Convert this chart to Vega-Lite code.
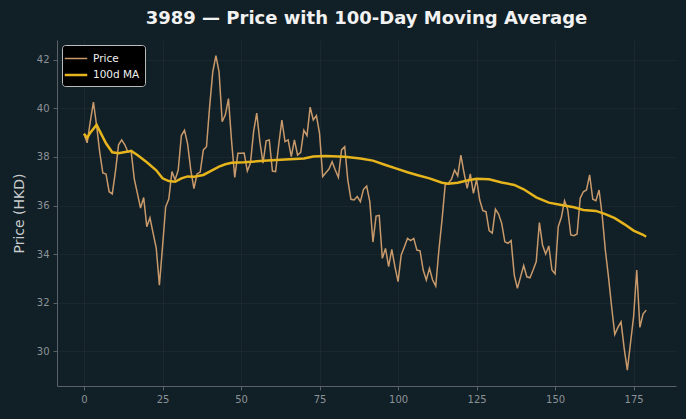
{
  "$schema": "https://vega.github.io/schema/vega-lite/v6.json",
  "width": 619,
  "height": 346,
  "autosize": {"type": "none"},
  "padding": {"left": 57, "top": 40, "right": 10, "bottom": 33},
  "background": "#111f26",
  "config": {
    "font": "DejaVu Sans",
    "view": {"stroke": null, "fill": "#111f26"},
    "axis": {
      "domainColor": "#5b6166",
      "tickColor": "#5b6166",
      "labelColor": "#8c9398",
      "labelFontSize": 10,
      "gridColor": "#ffffff",
      "gridOpacity": 0.04,
      "tickSize": 4,
      "labelPadding": 4
    }
  },
  "title": {
    "text": "3989 — Price with 100-Day Moving Average",
    "fontSize": 18,
    "fontWeight": "bold",
    "color": "#f2f2f2",
    "anchor": "middle",
    "offset": 12
  },
  "data": {
    "values": [
      {"day": 0, "series": "Price", "value": 38.95},
      {"day": 1, "series": "Price", "value": 38.58},
      {"day": 2, "series": "Price", "value": 39.45},
      {"day": 3, "series": "Price", "value": 40.26},
      {"day": 4, "series": "Price", "value": 39.3},
      {"day": 5, "series": "Price", "value": 38.2},
      {"day": 6, "series": "Price", "value": 37.34},
      {"day": 7, "series": "Price", "value": 37.3},
      {"day": 8, "series": "Price", "value": 36.57},
      {"day": 9, "series": "Price", "value": 36.48},
      {"day": 10, "series": "Price", "value": 37.4},
      {"day": 11, "series": "Price", "value": 38.5},
      {"day": 12, "series": "Price", "value": 38.7},
      {"day": 13, "series": "Price", "value": 38.5},
      {"day": 14, "series": "Price", "value": 38.2},
      {"day": 15, "series": "Price", "value": 38.25},
      {"day": 16, "series": "Price", "value": 37.1},
      {"day": 17, "series": "Price", "value": 36.5},
      {"day": 18, "series": "Price", "value": 35.9},
      {"day": 19, "series": "Price", "value": 36.33},
      {"day": 20, "series": "Price", "value": 35.13},
      {"day": 21, "series": "Price", "value": 35.5},
      {"day": 22, "series": "Price", "value": 34.87},
      {"day": 23, "series": "Price", "value": 34.25},
      {"day": 24, "series": "Price", "value": 32.73},
      {"day": 25, "series": "Price", "value": 34.3},
      {"day": 26, "series": "Price", "value": 35.95},
      {"day": 27, "series": "Price", "value": 36.27},
      {"day": 28, "series": "Price", "value": 37.4},
      {"day": 29, "series": "Price", "value": 37.05},
      {"day": 30, "series": "Price", "value": 37.46},
      {"day": 31, "series": "Price", "value": 38.88},
      {"day": 32, "series": "Price", "value": 39.1},
      {"day": 33, "series": "Price", "value": 38.53},
      {"day": 34, "series": "Price", "value": 37.46},
      {"day": 35, "series": "Price", "value": 36.7},
      {"day": 36, "series": "Price", "value": 37.3},
      {"day": 37, "series": "Price", "value": 37.38},
      {"day": 38, "series": "Price", "value": 38.29},
      {"day": 39, "series": "Price", "value": 38.42},
      {"day": 40, "series": "Price", "value": 40.07},
      {"day": 41, "series": "Price", "value": 41.5},
      {"day": 42, "series": "Price", "value": 42.17},
      {"day": 43, "series": "Price", "value": 41.5},
      {"day": 44, "series": "Price", "value": 39.45},
      {"day": 45, "series": "Price", "value": 39.73},
      {"day": 46, "series": "Price", "value": 40.4},
      {"day": 47, "series": "Price", "value": 38.63},
      {"day": 48, "series": "Price", "value": 37.16},
      {"day": 49, "series": "Price", "value": 38.15},
      {"day": 50, "series": "Price", "value": 38.15},
      {"day": 51, "series": "Price", "value": 38.16},
      {"day": 52, "series": "Price", "value": 37.42},
      {"day": 53, "series": "Price", "value": 37.75},
      {"day": 54, "series": "Price", "value": 39.04},
      {"day": 55, "series": "Price", "value": 39.8},
      {"day": 56, "series": "Price", "value": 38.63},
      {"day": 57, "series": "Price", "value": 37.75},
      {"day": 58, "series": "Price", "value": 38.66},
      {"day": 59, "series": "Price", "value": 38.7},
      {"day": 60, "series": "Price", "value": 37.42},
      {"day": 61, "series": "Price", "value": 37.4},
      {"day": 62, "series": "Price", "value": 38.5},
      {"day": 63, "series": "Price", "value": 39.52},
      {"day": 64, "series": "Price", "value": 38.63},
      {"day": 65, "series": "Price", "value": 38.7},
      {"day": 66, "series": "Price", "value": 38.01},
      {"day": 67, "series": "Price", "value": 38.7},
      {"day": 68, "series": "Price", "value": 38.08},
      {"day": 69, "series": "Price", "value": 38.19},
      {"day": 70, "series": "Price", "value": 39.1},
      {"day": 71, "series": "Price", "value": 38.88},
      {"day": 72, "series": "Price", "value": 40.05},
      {"day": 73, "series": "Price", "value": 39.52},
      {"day": 74, "series": "Price", "value": 39.7},
      {"day": 75, "series": "Price", "value": 38.97},
      {"day": 76, "series": "Price", "value": 37.19},
      {"day": 77, "series": "Price", "value": 37.35},
      {"day": 78, "series": "Price", "value": 37.5},
      {"day": 79, "series": "Price", "value": 37.8},
      {"day": 80, "series": "Price", "value": 37.46},
      {"day": 81, "series": "Price", "value": 37.16},
      {"day": 82, "series": "Price", "value": 38.29},
      {"day": 83, "series": "Price", "value": 38.42},
      {"day": 84, "series": "Price", "value": 37.05},
      {"day": 85, "series": "Price", "value": 36.26},
      {"day": 86, "series": "Price", "value": 36.23},
      {"day": 87, "series": "Price", "value": 36.37},
      {"day": 88, "series": "Price", "value": 36.16},
      {"day": 89, "series": "Price", "value": 36.67},
      {"day": 90, "series": "Price", "value": 36.8},
      {"day": 91, "series": "Price", "value": 36.16},
      {"day": 92, "series": "Price", "value": 34.5},
      {"day": 93, "series": "Price", "value": 35.57},
      {"day": 94, "series": "Price", "value": 35.6},
      {"day": 95, "series": "Price", "value": 33.83},
      {"day": 96, "series": "Price", "value": 34.24},
      {"day": 97, "series": "Price", "value": 33.49},
      {"day": 98, "series": "Price", "value": 34.2},
      {"day": 99, "series": "Price", "value": 33.49},
      {"day": 100, "series": "Price", "value": 32.87},
      {"day": 101, "series": "Price", "value": 33.97},
      {"day": 102, "series": "Price", "value": 34.3},
      {"day": 103, "series": "Price", "value": 34.65},
      {"day": 104, "series": "Price", "value": 34.56},
      {"day": 105, "series": "Price", "value": 34.65},
      {"day": 106, "series": "Price", "value": 34.17},
      {"day": 107, "series": "Price", "value": 34.14},
      {"day": 108, "series": "Price", "value": 33.35},
      {"day": 109, "series": "Price", "value": 32.94},
      {"day": 110, "series": "Price", "value": 33.42},
      {"day": 111, "series": "Price", "value": 32.94},
      {"day": 112, "series": "Price", "value": 32.69},
      {"day": 113, "series": "Price", "value": 34.17},
      {"day": 114, "series": "Price", "value": 35.41},
      {"day": 115, "series": "Price", "value": 36.85},
      {"day": 116, "series": "Price", "value": 36.92},
      {"day": 117, "series": "Price", "value": 37.08},
      {"day": 118, "series": "Price", "value": 37.46},
      {"day": 119, "series": "Price", "value": 37.22},
      {"day": 120, "series": "Price", "value": 38.08},
      {"day": 121, "series": "Price", "value": 37.35},
      {"day": 122, "series": "Price", "value": 36.71},
      {"day": 123, "series": "Price", "value": 37.3},
      {"day": 124, "series": "Price", "value": 36.5},
      {"day": 125, "series": "Price", "value": 37.08},
      {"day": 126, "series": "Price", "value": 36.23},
      {"day": 127, "series": "Price", "value": 35.79},
      {"day": 128, "series": "Price", "value": 35.75},
      {"day": 129, "series": "Price", "value": 34.97},
      {"day": 130, "series": "Price", "value": 34.87},
      {"day": 131, "series": "Price", "value": 35.85},
      {"day": 132, "series": "Price", "value": 35.65},
      {"day": 133, "series": "Price", "value": 35.27},
      {"day": 134, "series": "Price", "value": 34.51},
      {"day": 135, "series": "Price", "value": 34.45},
      {"day": 136, "series": "Price", "value": 34.56},
      {"day": 137, "series": "Price", "value": 33.14},
      {"day": 138, "series": "Price", "value": 32.6},
      {"day": 139, "series": "Price", "value": 33.07},
      {"day": 140, "series": "Price", "value": 33.53},
      {"day": 141, "series": "Price", "value": 33.07},
      {"day": 142, "series": "Price", "value": 33.03},
      {"day": 143, "series": "Price", "value": 33.35},
      {"day": 144, "series": "Price", "value": 33.7},
      {"day": 145, "series": "Price", "value": 35.3},
      {"day": 146, "series": "Price", "value": 34.38},
      {"day": 147, "series": "Price", "value": 34.01},
      {"day": 148, "series": "Price", "value": 34.34},
      {"day": 149, "series": "Price", "value": 33.35},
      {"day": 150, "series": "Price", "value": 33.19},
      {"day": 151, "series": "Price", "value": 35.13},
      {"day": 152, "series": "Price", "value": 35.52},
      {"day": 153, "series": "Price", "value": 36.2},
      {"day": 154, "series": "Price", "value": 35.85},
      {"day": 155, "series": "Price", "value": 34.79},
      {"day": 156, "series": "Price", "value": 34.76},
      {"day": 157, "series": "Price", "value": 34.83},
      {"day": 158, "series": "Price", "value": 36.3},
      {"day": 159, "series": "Price", "value": 36.57},
      {"day": 160, "series": "Price", "value": 36.64},
      {"day": 161, "series": "Price", "value": 37.26},
      {"day": 162, "series": "Price", "value": 36.26},
      {"day": 163, "series": "Price", "value": 36.2},
      {"day": 164, "series": "Price", "value": 36.64},
      {"day": 165, "series": "Price", "value": 35.6},
      {"day": 166, "series": "Price", "value": 34.17},
      {"day": 167, "series": "Price", "value": 33.07},
      {"day": 168, "series": "Price", "value": 31.84},
      {"day": 169, "series": "Price", "value": 30.7},
      {"day": 170, "series": "Price", "value": 30.99},
      {"day": 171, "series": "Price", "value": 31.22},
      {"day": 172, "series": "Price", "value": 30.13},
      {"day": 173, "series": "Price", "value": 29.23},
      {"day": 174, "series": "Price", "value": 30.33},
      {"day": 175, "series": "Price", "value": 31.43},
      {"day": 176, "series": "Price", "value": 33.35},
      {"day": 177, "series": "Price", "value": 30.99},
      {"day": 178, "series": "Price", "value": 31.54},
      {"day": 179, "series": "Price", "value": 31.7},
      {"day": 0, "series": "100d MA", "value": 38.95},
      {"day": 1, "series": "100d MA", "value": 38.78},
      {"day": 2, "series": "100d MA", "value": 39.0},
      {"day": 4, "series": "100d MA", "value": 39.32},
      {"day": 7, "series": "100d MA", "value": 38.56},
      {"day": 9, "series": "100d MA", "value": 38.19},
      {"day": 11, "series": "100d MA", "value": 38.15},
      {"day": 14, "series": "100d MA", "value": 38.22},
      {"day": 15, "series": "100d MA", "value": 38.25},
      {"day": 17, "series": "100d MA", "value": 38.08},
      {"day": 20, "series": "100d MA", "value": 37.78},
      {"day": 23, "series": "100d MA", "value": 37.45},
      {"day": 25, "series": "100d MA", "value": 37.12},
      {"day": 27, "series": "100d MA", "value": 37.01},
      {"day": 29, "series": "100d MA", "value": 36.98},
      {"day": 31, "series": "100d MA", "value": 37.12},
      {"day": 33, "series": "100d MA", "value": 37.2},
      {"day": 35, "series": "100d MA", "value": 37.19},
      {"day": 38, "series": "100d MA", "value": 37.26},
      {"day": 40, "series": "100d MA", "value": 37.4},
      {"day": 43, "series": "100d MA", "value": 37.6},
      {"day": 45, "series": "100d MA", "value": 37.7},
      {"day": 47, "series": "100d MA", "value": 37.76},
      {"day": 51, "series": "100d MA", "value": 37.78},
      {"day": 57, "series": "100d MA", "value": 37.84},
      {"day": 64, "series": "100d MA", "value": 37.9},
      {"day": 70, "series": "100d MA", "value": 37.94},
      {"day": 73, "series": "100d MA", "value": 38.02},
      {"day": 77, "series": "100d MA", "value": 38.04},
      {"day": 83, "series": "100d MA", "value": 38.01},
      {"day": 88, "series": "100d MA", "value": 37.94},
      {"day": 92, "series": "100d MA", "value": 37.85},
      {"day": 96, "series": "100d MA", "value": 37.67},
      {"day": 100, "series": "100d MA", "value": 37.5},
      {"day": 103, "series": "100d MA", "value": 37.37},
      {"day": 106, "series": "100d MA", "value": 37.26},
      {"day": 110, "series": "100d MA", "value": 37.12},
      {"day": 114, "series": "100d MA", "value": 36.94},
      {"day": 116, "series": "100d MA", "value": 36.9},
      {"day": 119, "series": "100d MA", "value": 36.94},
      {"day": 122, "series": "100d MA", "value": 37.03},
      {"day": 125, "series": "100d MA", "value": 37.1},
      {"day": 129, "series": "100d MA", "value": 37.08},
      {"day": 133, "series": "100d MA", "value": 36.95},
      {"day": 137, "series": "100d MA", "value": 36.85},
      {"day": 140, "series": "100d MA", "value": 36.67},
      {"day": 144, "series": "100d MA", "value": 36.34},
      {"day": 148, "series": "100d MA", "value": 36.12},
      {"day": 152, "series": "100d MA", "value": 36.02},
      {"day": 156, "series": "100d MA", "value": 35.93},
      {"day": 159, "series": "100d MA", "value": 35.82},
      {"day": 163, "series": "100d MA", "value": 35.78},
      {"day": 166, "series": "100d MA", "value": 35.65},
      {"day": 169, "series": "100d MA", "value": 35.48},
      {"day": 172, "series": "100d MA", "value": 35.24},
      {"day": 175, "series": "100d MA", "value": 34.97},
      {"day": 178, "series": "100d MA", "value": 34.8},
      {"day": 179, "series": "100d MA", "value": 34.72}
    ]
  },
  "mark": {"type": "line", "interpolate": "linear"},
  "encoding": {
    "x": {
      "field": "day",
      "type": "quantitative",
      "scale": {"domain": [-8.6, 188.5], "nice": false, "zero": false},
      "axis": {"values": [0, 25, 50, 75, 100, 125, 150, 175], "title": null, "grid": true}
    },
    "y": {
      "field": "value",
      "type": "quantitative",
      "scale": {"domain": [28.58, 42.81], "nice": false, "zero": false},
      "axis": {
        "values": [30, 32, 34, 36, 38, 40, 42],
        "title": "Price (HKD)",
        "titleColor": "#c8cbcd",
        "titleFontSize": 14,
        "titleFontWeight": "normal",
        "titlePadding": 10,
        "grid": true
      }
    },
    "color": {
      "field": "series",
      "type": "nominal",
      "scale": {"domain": ["Price", "100d MA"], "range": ["#c89a6b", "#e6b41c"]},
      "legend": {
        "title": null,
        "orient": "top-left",
        "offset": 5,
        "fillColor": "#000000",
        "strokeColor": "#bbbbbb",
        "cornerRadius": 3,
        "padding": 5,
        "labelColor": "#f0f0f0",
        "labelFontSize": 10.5,
        "labelOffset": 8,
        "symbolType": "M-1.5,0H1.5",
        "symbolSize": 225,
        "rowPadding": 2
      }
    },
    "strokeWidth": {
      "field": "series",
      "type": "nominal",
      "scale": {"domain": ["Price", "100d MA"], "range": [1.5, 2.5]},
      "legend": {
        "title": null,
        "orient": "top-left",
        "offset": 5
      }
    },
    "order": {"field": "day", "type": "quantitative"}
  }
}
